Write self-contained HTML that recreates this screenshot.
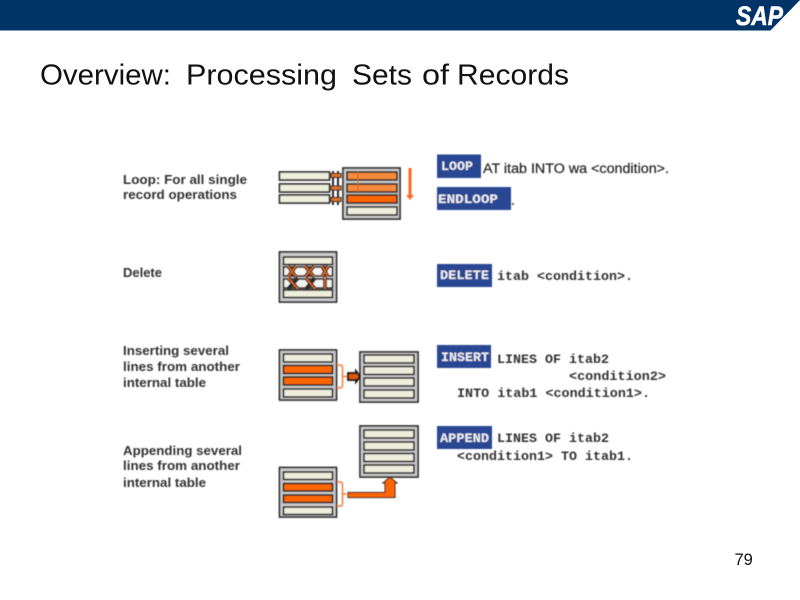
<!DOCTYPE html>
<html><head><meta charset="utf-8"><style>html,body{margin:0;padding:0;background:#fff;width:800px;height:600px;overflow:hidden}svg{display:block}</style></head><body>
<svg width="800" height="600" viewBox="0 0 800 600" xmlns="http://www.w3.org/2000/svg">
<defs>
<filter id="b" x="-5%" y="-5%" width="110%" height="110%"><feGaussianBlur stdDeviation="0.4"/></filter>
</defs>
<rect x="0" y="0" width="800" height="30.5" fill="#003366"/>
<polygon points="770,31 800,0 800,31" fill="#fff"/>
<text x="736" y="25" font-family="Liberation Sans" font-weight="bold" font-style="italic" font-size="27" fill="#fff" stroke="#fff" stroke-width="0.6" textLength="47" lengthAdjust="spacingAndGlyphs">SAP</text>
<g font-family="Liberation Sans" font-size="29" fill="#111">
<text x="40" y="84.500" textLength="131" lengthAdjust="spacingAndGlyphs">Overview:</text>
<text x="186" y="84.500" textLength="151" lengthAdjust="spacingAndGlyphs">Processing</text>
<text x="352" y="84.500" textLength="60" lengthAdjust="spacingAndGlyphs">Sets</text>
<text x="422" y="84.500" textLength="27" lengthAdjust="spacingAndGlyphs">of</text>
<text x="457" y="84.500" textLength="112" lengthAdjust="spacingAndGlyphs">Records</text>
</g>
<text x="734.500" y="565" font-family="Liberation Sans" font-size="16.500" fill="#111">79</text>

<g filter="url(#b)">
<g font-family="Liberation Sans" font-weight="bold" font-size="12.5" fill="#333">
<text x="123" y="184" textLength="124" lengthAdjust="spacingAndGlyphs">Loop: For all single</text>
<text x="123" y="199" textLength="114" lengthAdjust="spacingAndGlyphs">record operations</text>
<text x="123" y="277" textLength="39" lengthAdjust="spacingAndGlyphs">Delete</text>
<text x="123" y="355" textLength="106" lengthAdjust="spacingAndGlyphs">Inserting several</text>
<text x="123" y="371" textLength="117" lengthAdjust="spacingAndGlyphs">lines from another</text>
<text x="123" y="387" textLength="83" lengthAdjust="spacingAndGlyphs">internal table</text>
<text x="123" y="455" textLength="119" lengthAdjust="spacingAndGlyphs">Appending several</text>
<text x="123" y="470" textLength="117" lengthAdjust="spacingAndGlyphs">lines from another</text>
<text x="123" y="487" textLength="83" lengthAdjust="spacingAndGlyphs">internal table</text>
</g>

<g stroke="#2a2a2a" stroke-width="1.7">
<!-- loop -->
<rect x="279.500" y="172" width="50" height="8" fill="#eeeedd"/>
<rect x="279.500" y="184" width="50" height="8" fill="#eeeedd"/>
<rect x="279.500" y="195" width="50" height="8" fill="#eeeedd"/>
<rect x="343" y="168" width="57" height="51" fill="#ccc"/>
<rect x="347" y="172" width="50" height="8" fill="#f68a3c"/>
<rect x="347" y="184" width="50" height="8" fill="#f68a3c"/>
<rect x="347" y="195" width="50" height="8" fill="#ff6600"/>
<rect x="347" y="207" width="50" height="8" fill="#eeeedd"/>
<!-- delete -->
<rect x="279.500" y="252" width="57" height="50" fill="#ccc"/>
<rect x="283.500" y="257" width="49" height="7.500" fill="#eeeedd"/>
<rect x="283.500" y="267" width="49" height="9" fill="#f4f4f0"/>
<rect x="283.500" y="279" width="49" height="9" fill="#f4f4f0"/>
<rect x="283.500" y="290" width="49" height="7.500" fill="#eeeedd"/>
<!-- insert A -->
<rect x="279.500" y="350" width="57" height="50" fill="#ccc"/>
<rect x="283.500" y="354" width="49" height="8" fill="#eeeedd"/>
<rect x="283.500" y="365.500" width="49" height="8" fill="#ff6600"/>
<rect x="283.500" y="377" width="49" height="8" fill="#ff6600"/>
<rect x="283.500" y="389" width="49" height="8" fill="#eeeedd"/>
<!-- insert B -->
<rect x="360" y="352" width="58" height="50" fill="#ccc"/>
<rect x="364" y="355" width="50" height="8" fill="#eeeedd"/>
<rect x="364" y="366.500" width="50" height="8" fill="#eeeedd"/>
<rect x="364" y="378" width="50" height="8" fill="#eeeedd"/>
<rect x="364" y="390" width="50" height="8" fill="#eeeedd"/>
<!-- append B -->
<rect x="360" y="426" width="58" height="51" fill="#ccc"/>
<rect x="364" y="430" width="50" height="8" fill="#eeeedd"/>
<rect x="364" y="442" width="50" height="8" fill="#eeeedd"/>
<rect x="364" y="453.500" width="50" height="8" fill="#eeeedd"/>
<rect x="364" y="465" width="50" height="8" fill="#eeeedd"/>
<!-- append A -->
<rect x="279.500" y="467.500" width="57" height="49.500" fill="#ccc"/>
<rect x="283.500" y="472" width="49" height="7.500" fill="#eeeedd"/>
<rect x="283.500" y="483.500" width="49" height="7.500" fill="#ff6600"/>
<rect x="283.500" y="495" width="49" height="7.500" fill="#ff6600"/>
<rect x="283.500" y="507" width="49" height="7.500" fill="#eeeedd"/>
</g>
<path d="M358 172V192" stroke="#d9651c" stroke-width="1"/>

<!-- loop connectors -->
<g stroke="#2a2a2a" stroke-width="2" fill="none">
<path d="M333 171V205M338 171V205"/>
</g>
<g fill="#e07020" stroke="#2a2a2a" stroke-width="1">
<rect x="331" y="173.500" width="10" height="4"/>
<rect x="331" y="186" width="10" height="4"/>
<rect x="331" y="197.500" width="10" height="4"/>
</g>
<path d="M410 168V196" stroke="#ff6622" stroke-width="3"/>
<polygon points="406,195 414,195 410,200" fill="#ff6622"/>

<!-- delete crosses -->
<g stroke="#2a2a2a" stroke-width="4" fill="none">
<path d="M288 266L296 277M296 266L288 277M305 266L314 277M314 266L305 277M322 266L328 277M328 266L322 277M288 278L298 289M298 278L288 289M306 278L315 289M315 278L306 289M325 278V289"/>
</g>
<g stroke="#d9651c" stroke-width="1.700" fill="none">
<path d="M288 266L296 277M296 266L288 277M305 266L314 277M314 266L305 277M322 266L328 277M328 266L322 277M288 278L298 289M306 278L315 289M325 278V289"/>
</g>

<!-- brackets -->
<g stroke="#f68a4c" stroke-width="1.700" fill="none">
<path d="M337 365H340Q342.500 365 342.500 368V385Q342.500 388 340 388H337M342.500 376.500H347"/>
<path d="M337 482H340Q342.500 482 342.500 485V503Q342.500 506 340 506H337M342.500 494H347"/>
</g>
<!-- insert arrow -->
<polygon points="348,373 356,373 356,371 360,376.500 356,382 356,380 348,380" fill="#d85a0c" stroke="#111" stroke-width="1.800"/>
<!-- append arrow -->
<polygon points="348,492.500 385,492.500 385,483 383,483 390,477 397,483 395,483 395,497.500 348,497.500" fill="#ff6600" stroke="#222" stroke-width="1"/>

<!-- keyword boxes -->
<g fill="#2a4694">
<rect x="437" y="154.500" width="44" height="23.500"/>
<rect x="437" y="187" width="74" height="23"/>
<rect x="437" y="264" width="55" height="23"/>
<rect x="437" y="345" width="54" height="23"/>
<rect x="437" y="426" width="55" height="23"/>
</g>
<g font-family="Liberation Mono" font-weight="bold" font-size="13.300" fill="#f0f0f0">
<text x="441" y="170" textLength="32" lengthAdjust="spacingAndGlyphs">LOOP</text>
<text x="438" y="203" textLength="60" lengthAdjust="spacingAndGlyphs">ENDLOOP</text>
<text x="440" y="279" textLength="49" lengthAdjust="spacingAndGlyphs">DELETE</text>
<text x="441" y="361" textLength="48" lengthAdjust="spacingAndGlyphs">INSERT</text>
<text x="440" y="442" textLength="49" lengthAdjust="spacingAndGlyphs">APPEND</text>
</g>
<text x="483" y="173" font-family="Liberation Sans" font-size="14.200" fill="#222" stroke="#222" stroke-width="0.2" textLength="186" lengthAdjust="spacingAndGlyphs">AT itab INTO wa &lt;condition&gt;.</text>
<text x="509" y="205" font-family="Liberation Mono" font-size="13" fill="#333">.</text>
<g font-family="Liberation Mono" font-weight="bold" font-size="13.300" fill="#333">
<text x="497" y="280" textLength="136" lengthAdjust="spacingAndGlyphs">itab &lt;condition&gt;.</text>
<text x="497" y="363" textLength="112" lengthAdjust="spacingAndGlyphs">LINES OF itab2</text>
<text x="569" y="380" textLength="97" lengthAdjust="spacingAndGlyphs">&lt;condition2&gt;</text>
<text x="457" y="397" textLength="193" lengthAdjust="spacingAndGlyphs">INTO itab1 &lt;condition1&gt;.</text>
<text x="497" y="442" textLength="112" lengthAdjust="spacingAndGlyphs">LINES OF itab2</text>
<text x="457" y="460" textLength="176" lengthAdjust="spacingAndGlyphs">&lt;condition1&gt; TO itab1.</text>
</g>
</g>
</svg>
</body></html>
